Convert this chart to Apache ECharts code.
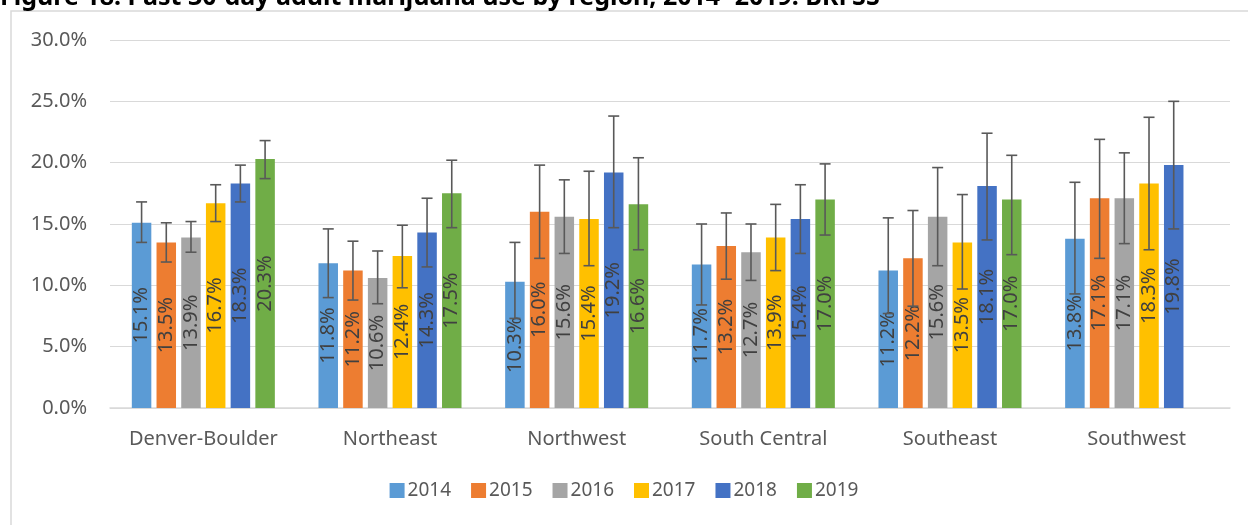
<!DOCTYPE html>
<html>
<head>
<meta charset="utf-8">
<script src="https://cdn.jsdelivr.net/npm/echarts@6/dist/echarts.min.js"></script>
<style>
  html, body { margin: 0; padding: 0; background: #fff; }
  #main { width: 1248px; height: 525px; }
</style>
</head>
<body>
<div id="main"></div>
<script>
// regions on the x axis
const categories = ['Denver-Boulder', 'Northeast', 'Northwest', 'South Central', 'Southeast', 'Southwest'];
const years = ['2014', '2015', '2016', '2017', '2018', '2019'];

// point estimates (%)
const v2014 = [15.1, 11.8, 10.3, 11.7, 11.2, 13.8];
const v2015 = [13.5, 11.2, 16.0, 13.2, 12.2, 17.1];
const v2016 = [13.9, 10.6, 15.6, 12.7, 15.6, 17.1];
const v2017 = [16.7, 12.4, 15.4, 13.9, 13.5, 18.3];
const v2018 = [18.3, 14.3, 19.2, 15.4, 18.1, 19.8];
const v2019 = [20.3, 17.5, 16.6, 17.0, 17.0, null];

// confidence interval ends (%)
const lo2014 = [13.5, 9.0, 7.3, 8.4, 7.7, 9.3];
const hi2014 = [16.8, 14.6, 13.5, 15.0, 15.5, 18.4];
const lo2015 = [11.9, 8.8, 12.2, 10.5, 8.3, 12.2];
const hi2015 = [15.1, 13.6, 19.8, 15.9, 16.1, 21.9];
const lo2016 = [12.7, 8.5, 12.6, 10.4, 11.6, 13.4];
const hi2016 = [15.2, 12.8, 18.6, 15.0, 19.6, 20.8];
const lo2017 = [15.2, 9.8, 11.6, 11.2, 9.7, 12.9];
const hi2017 = [18.2, 14.9, 19.3, 16.6, 17.4, 23.7];
const lo2018 = [16.8, 11.5, 14.7, 12.6, 13.7, 14.6];
const hi2018 = [19.8, 17.1, 23.8, 18.2, 22.4, 25.0];
const lo2019 = [18.7, 14.7, 12.9, 14.1, 12.5, null];
const hi2019 = [21.8, 20.2, 20.4, 19.9, 20.6, null];

const values = [v2014, v2015, v2016, v2017, v2018, v2019];
const lows = [lo2014, lo2015, lo2016, lo2017, lo2018, lo2019];
const highs = [hi2014, hi2015, hi2016, hi2017, hi2018, hi2019];
const colors = ['#5B9BD5', '#ED7D31', '#A5A5A5', '#FFC000', '#4472C4', '#70AD47'];

const FONT = 'Noto Sans';
const BAR_W = 19.5;
const BAR_GAP = 5.2;

const chart = echarts.init(document.getElementById('main'));

function errorRenderer(k) {
  return function (params, api) {
    const idx = api.value(0);
    const lo = api.value(1);
    const hi = api.value(2);
    if (isNaN(lo) || isNaN(hi)) return null;
    const off = (k - (years.length - 1) / 2) * (BAR_W + BAR_GAP);
    const pLo = api.coord([idx, lo]);
    const pHi = api.coord([idx, hi]);
    const x = pLo[0] + off;
    const cap = 5.5;
    const st = { stroke: '#595959', lineWidth: 1.6 };
    return {
      type: 'group',
      children: [
        { type: 'line', shape: { x1: x, y1: pLo[1], x2: x, y2: pHi[1] }, style: st },
        { type: 'line', shape: { x1: x - cap, y1: pHi[1], x2: x + cap, y2: pHi[1] }, style: st },
        { type: 'line', shape: { x1: x - cap, y1: pLo[1], x2: x + cap, y2: pLo[1] }, style: st }
      ]
    };
  };
}

const series = [];
years.forEach(function (y, k) {
  series.push({
    name: y,
    type: 'bar',
    data: values[k],
    barWidth: BAR_W,
    barGap: (BAR_GAP / BAR_W * 100).toFixed(1) + '%',
    itemStyle: { color: colors[k] },
    label: {
      show: true,
      position: 'inside',
      rotate: 90,
      color: '#404040',
      fontFamily: FONT,
      fontSize: 20,
      formatter: function (p) { return p.value.toFixed(1) + '%'; }
    },
    z: 2
  });
});
years.forEach(function (y, k) {
  series.push({
    name: 'ci' + y,
    type: 'custom',
    renderItem: errorRenderer(k),
    data: categories.map(function (c, i) { return [i, lows[k][i], highs[k][i]]; }),
    z: 5,
    silent: true
  });
});

const option = {
  backgroundColor: '#ffffff',
  animation: false,
  graphic: [
    {
      type: 'rect',
      shape: { x: 11, y: 11, width: 1300, height: 600 },
      style: { fill: 'none', stroke: '#d9d9d9', lineWidth: 1.5 },
      z: -1
    },
    {
      type: 'text',
      left: 0,
      top: -15,
      style: {
        text: 'Figure 18. Past 30-day adult marijuana use by region, 2014- 2019. BRFSS',
        fontFamily: FONT,
        fontWeight: 'bold',
        fontSize: 25,
        fill: '#000000'
      }
    }
  ],
  grid: { left: 110, right: 18, top: 40, bottom: 117 },
  legend: {
    data: years,
    bottom: 20,
    left: 'center',
    itemWidth: 15,
    itemHeight: 15,
    itemGap: 20,
    icon: 'rect',
    textStyle: { color: '#595959', fontFamily: FONT, fontSize: 19, padding: [0, 0, 0, -2] }
  },
  xAxis: {
    type: 'category',
    data: categories,
    axisLine: { lineStyle: { color: '#d9d9d9', width: 1.5 } },
    axisTick: { show: false },
    axisLabel: { interval: 0, color: '#595959', fontFamily: FONT, fontSize: 20, margin: 21 }
  },
  yAxis: {
    type: 'value',
    min: 0,
    max: 30,
    interval: 5,
    axisLine: { show: false },
    axisTick: { show: false },
    splitLine: { lineStyle: { color: '#d9d9d9', width: 1.2 } },
    axisLabel: {
      color: '#595959',
      fontFamily: FONT,
      fontSize: 20,
      margin: 23,
      formatter: function (v) { return v.toFixed(1) + '%'; }
    }
  },
  series: series
};

chart.setOption(option);
</script>
</body>
</html>
